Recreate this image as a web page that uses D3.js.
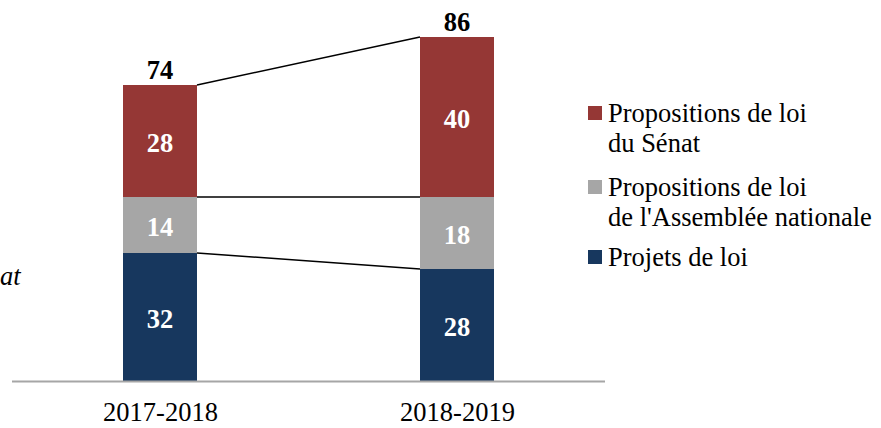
<!DOCTYPE html>
<html>
<head>
<meta charset="utf-8">
<script src="https://cdn.jsdelivr.net/npm/d3@7"></script>
<style>
  body { margin: 0; background: #fff; }
  svg text { font-family: 'Liberation Serif', 'Times New Roman', serif; }
</style>
</head>
<body>
<script>
const categories = ["2017-2018", "2018-2019"]
const projets = [32, 28]
const propAN = [14, 18]
const propSenat = [28, 40]
const seriesNames = [
    ["Propositions de loi", "du Sénat"],
    ["Propositions de loi", "de l'Assemblée nationale"],
    ["Projets de loi"]
]
const colors = ["#953735", "#A6A6A6", "#17375E"]

const width = 881
const height = 428
const fs = 26.5

const svg = d3.select('body').append('svg')
    .attr('width', width)
    .attr('height', height)

// stack bottom -> top
const rows = categories.map((c, i) => ({
    cat: c,
    projets: projets[i],
    propAN: propAN[i],
    propSenat: propSenat[i]
}))
const keys = ["projets", "propAN", "propSenat"]
const keyColor = { projets: colors[2], propAN: colors[1], propSenat: colors[0] }
const stacked = d3.stack().keys(keys)(rows)
const totals = rows.map(r => r.projets + r.propAN + r.propSenat)

const x = d3.scalePoint()
    .domain(categories)
    .range([160, 457])
const barW = 74

const y = d3.scaleLinear()
    .domain([0, 86])
    .range([381, 37])

// tail of a title cut by the frame in the original
svg.append('text')
    .attr('x', 0)
    .attr('y', 285)
    .attr('font-size', fs)
    .attr('font-style', 'italic')
    .text('at')

// connector lines between bar tops of each segment
stacked.forEach(s => {
    svg.append('line')
        .attr('x1', x(categories[0]) + barW / 2)
        .attr('y1', y(s[0][1]))
        .attr('x2', x(categories[1]) - barW / 2)
        .attr('y2', y(s[1][1]))
        .attr('stroke', '#000')
        .attr('stroke-width', 1.5)
})

const groups = svg.selectAll('g.series')
    .data(stacked)
    .enter()
    .append('g')
    .attr('class', 'series')
    .attr('fill', d => keyColor[d.key])

groups.selectAll('rect')
    .data(d => d)
    .enter()
    .append('rect')
    .attr('x', d => x(d.data.cat) - barW / 2)
    .attr('y', d => y(d[1]))
    .attr('width', barW)
    .attr('height', d => y(d[0]) - y(d[1]))

groups.selectAll('text.val')
    .data(d => d)
    .enter()
    .append('text')
    .attr('class', 'val')
    .attr('x', d => x(d.data.cat))
    .attr('y', d => (y(d[0]) + y(d[1])) / 2 + 10.5)
    .attr('text-anchor', 'middle')
    .attr('font-size', fs)
    .attr('font-weight', 'bold')
    .attr('fill', '#fff')
    .text(d => d[1] - d[0])

// totals
svg.selectAll('text.total')
    .data(categories)
    .enter()
    .append('text')
    .attr('class', 'total')
    .attr('x', d => x(d))
    .attr('y', (d, i) => y(totals[i]) - 6.5)
    .attr('text-anchor', 'middle')
    .attr('font-size', fs)
    .attr('font-weight', 'bold')
    .text((d, i) => totals[i])

// baseline axis
const xAxis = d3.axisBottom(x).tickSize(0).tickPadding(0)
const ax = svg.append('g')
    .attr('transform', `translate(0,${y(0)})`)
    .call(xAxis)
ax.select('.domain').remove()
ax.append('line')
    .attr('x1', 12).attr('x2', 605)
    .attr('y1', 0.5).attr('y2', 0.5)
    .attr('stroke', '#A6A6A6')
    .attr('stroke-width', 2)
ax.selectAll('.tick text')
    .attr('dy', 0)
    .attr('y', 40)
    .attr('font-size', fs)
    .attr('fill', '#000')

// legend
const legendY = [122, 196, 266]
const leg = svg.selectAll('g.legend')
    .data(seriesNames)
    .enter()
    .append('g')
    .attr('class', 'legend')
    .attr('transform', (d, i) => `translate(588,${legendY[i]})`)
leg.append('rect')
    .attr('x', 0)
    .attr('y', -16)
    .attr('width', 14)
    .attr('height', 14)
    .attr('fill', (d, i) => colors[i])
leg.append('text')
    .attr('font-size', fs)
    .selectAll('tspan')
    .data(d => d)
    .enter()
    .append('tspan')
    .attr('x', 20)
    .attr('dy', (d, i) => i === 0 ? 0 : 30)
    .text(d => d)
</script>
</body>
</html>
